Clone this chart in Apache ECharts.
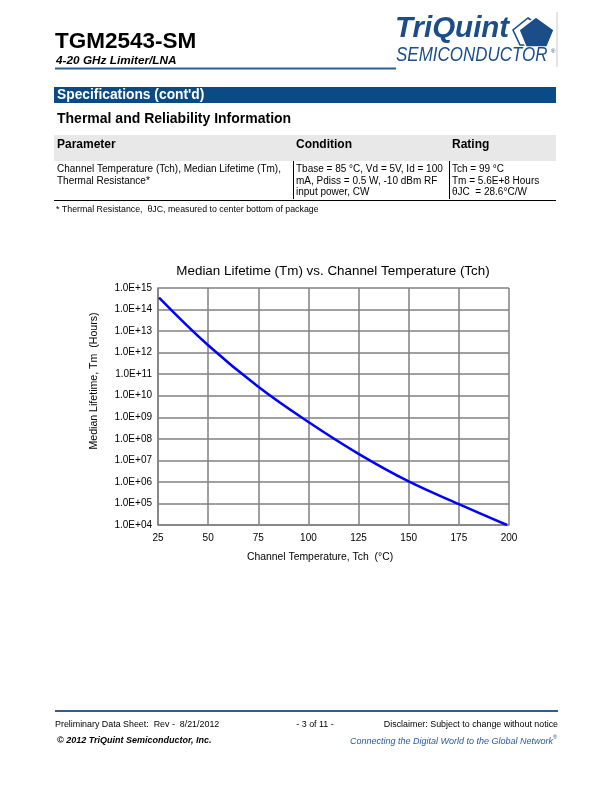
<!DOCTYPE html>
<html>
<head>
<meta charset="utf-8">
<script src="https://cdn.jsdelivr.net/npm/echarts@6/dist/echarts.min.js"></script>
<style>
html,body{margin:0;padding:0;background:#fff;}
#main{width:612px;height:792px;}
</style>
</head>
<body>
<div id="main"></div>
<script>
// ---- data ----
var tempC = [25.5, 50, 75, 100, 125, 150, 175, 199];
var lifetimeHours = [3.6e14, 2.2e12, 2.6e10, 6.0e8, 2.0e7, 1.05e6, 9.3e4, 1.0e4];
var xTicks = [25, 50, 75, 100, 125, 150, 175, 200];
var yTickExponents = [4, 5, 6, 7, 8, 9, 10, 11, 12, 13, 14, 15];
var tableHeader = ['Parameter', 'Condition', 'Rating'];
var tableParam = ['Channel Temperature (Tch), Median Lifetime (Tm),', 'Thermal Resistance*'];
var tableCond = ['Tbase = 85 °C, Vd = 5V, Id = 100', 'mA, Pdiss = 0.5 W, -10 dBm RF', 'input power, CW'];
var tableRating = ['Tch = 99 °C', 'Tm = 5.6E+8 Hours', 'θJC  = 28.6°C/W'];

var FONT = '"Liberation Sans", Arial, sans-serif';
var seriesData = tempC.map(function (t, i) { return [t, lifetimeHours[i]]; });

function txt(x, y, text, opt) {
  opt = opt || {};
  return {
    type: 'text', x: x, y: y, silent: true,
    scaleX: opt.scaleX || 1,
    style: {
      text: text,
      fill: opt.fill || '#000',
      font: (opt.style || '') + ' ' + (opt.weight || 'normal') + ' ' + (opt.size || 10) + 'px ' + FONT,
      textAlign: opt.align || 'left',
      textVerticalAlign: opt.valign || 'middle'
    }
  };
}
function line(x1, y1, x2, y2, color, w) {
  return { type: 'line', silent: true, shape: { x1: x1, y1: y1, x2: x2, y2: y2 }, style: { stroke: color, lineWidth: w } };
}
function rect(x, y, w, h, fill) {
  return { type: 'rect', silent: true, shape: { x: x, y: y, width: w, height: h }, style: { fill: fill } };
}

var g = [];
// header
g.push(txt(55, 41.5, 'TGM2543-SM', { size: 22.5, weight: 'bold' }));
g.push(txt(56, 60.5, '4-20 GHz Limiter/LNA', { size: 11.8, weight: 'bold', style: 'italic' }));
g.push(line(55, 68.5, 396, 68.5, '#2f5d9b', 2));
// logo
var logoBlue = '#1b4d89';
g.push(txt(395, 29, 'TriQuint', { size: 29.5, weight: 'bold', style: 'italic', fill: logoBlue }));
g.push({ type: 'polygon', silent: true, shape: { points: [[528, 18], [545, 30], [539, 45], [520, 45], [513, 30]] }, style: { fill: '#fff', stroke: logoBlue, lineWidth: 1.6 } });
g.push({ type: 'polygon', silent: true, shape: { points: [[536, 17], [554, 30], [547, 47], [526, 47], [519, 30]] }, style: { fill: logoBlue, stroke: '#fff', lineWidth: 1.5 } });
g.push(txt(551, 51, '®', { size: 6, fill: logoBlue }));
g.push(txt(396, 55.5, 'SEMICONDUCTOR', { size: 19.5, fill: logoBlue, style: 'italic', scaleX: 0.87 }));
g.push(line(557, 12, 557, 67, '#c8c8c8', 1));

// specs bar
g.push(rect(54, 87, 502, 16, '#0a4a86'));
g.push(txt(57, 95.5, 'Specifications (cont\'d)', { size: 13.8, weight: 'bold', fill: '#fff' }));
g.push(txt(57, 119, 'Thermal and Reliability Information', { size: 14, weight: 'bold' }));
// table
g.push(rect(54, 135, 502, 26, '#e8e8e8'));
g.push(txt(57, 145, tableHeader[0], { size: 12, weight: 'bold' }));
g.push(txt(296, 145, tableHeader[1], { size: 12, weight: 'bold' }));
g.push(txt(452, 145, tableHeader[2], { size: 12, weight: 'bold' }));
g.push(line(293.5, 161, 293.5, 199, '#000', 1));
g.push(line(449.5, 161, 449.5, 199, '#000', 1));
g.push(line(54, 200.5, 556, 200.5, '#000', 1.2));
var rowY = [169.5, 181, 192.5];
tableParam.forEach(function (s, i) { g.push(txt(57, rowY[i], s, { size: 10 })); });
tableCond.forEach(function (s, i) { g.push(txt(296, rowY[i], s, { size: 10 })); });
tableRating.forEach(function (s, i) { g.push(txt(452, rowY[i], s, { size: 10 })); });
g.push(txt(56, 210, '* Thermal Resistance,  θJC, measured to center bottom of package', { size: 8.8 }));

// chart title and axis names
g.push(txt(333, 271, 'Median Lifetime (Tm) vs. Channel Temperature (Tch)', { size: 13.4, align: 'center' }));
g.push(txt(320, 557, 'Channel Temperature, Tch  (°C)', { size: 10.4, align: 'center' }));
g.push({
  type: 'text', x: 94, y: 381, rotation: Math.PI / 2, silent: true,
  style: { text: 'Median Lifetime, Tm  (Hours)', fill: '#000', font: '10.6px ' + FONT, textAlign: 'center', textVerticalAlign: 'middle' }
});

// footer
g.push(line(55, 711, 558, 711, '#2f5d9b', 2));
g.push(txt(55, 725, 'Preliminary Data Sheet:  Rev -  8/21/2012', { size: 8.9 }));
g.push(txt(315, 725, '- 3 of 11 -', { size: 8.9, align: 'center' }));
g.push(txt(558, 725, 'Disclaimer: Subject to change without notice', { size: 8.9, align: 'right' }));
g.push(txt(57, 741, '© 2012 TriQuint Semiconductor, Inc.', { size: 9, weight: 'bold', style: 'italic' }));
g.push(txt(553, 741, 'Connecting the Digital World to the Global Network', { size: 9, style: 'italic', fill: '#2c5c9c', align: 'right' }));
g.push(txt(553, 737, '®', { size: 5.5, fill: '#2c5c9c' }));

var chart = echarts.init(document.getElementById('main'), null, { renderer: 'canvas' });
chart.setOption({
  animation: false,
  backgroundColor: '#fff',
  grid: { left: 158, top: 288, right: 103, bottom: 267, show: false },
  xAxis: {
    type: 'value', min: xTicks[0], max: xTicks[xTicks.length - 1], interval: 25,
    axisLine: { show: true, lineStyle: { color: '#808080', width: 1.5 } },
    axisTick: { show: false },
    splitLine: { show: true, lineStyle: { color: '#808080', width: 1.5 } },
    axisLabel: { color: '#000', fontSize: 10, fontFamily: FONT, margin: 8 }
  },
  yAxis: {
    type: 'log', logBase: 10, interval: 1,
    min: Math.pow(10, yTickExponents[0]), max: Math.pow(10, yTickExponents[yTickExponents.length - 1]),
    axisLine: { show: true, lineStyle: { color: '#808080', width: 1.5 } },
    axisTick: { show: false },
    splitLine: { show: true, lineStyle: { color: '#808080', width: 1.5 } },
    axisLabel: {
      color: '#000', fontSize: 10, fontFamily: FONT, margin: 6,
      formatter: function (v) {
        var e = Math.round(Math.log10(v));
        return '1.0E+' + (e < 10 ? '0' + e : e);
      }
    }
  },
  series: [{
    type: 'line', data: seriesData, smooth: 0.4, showSymbol: false,
    lineStyle: { color: '#0000ff', width: 2.5 }
  }],
  graphic: g
});
</script>
</body>
</html>
